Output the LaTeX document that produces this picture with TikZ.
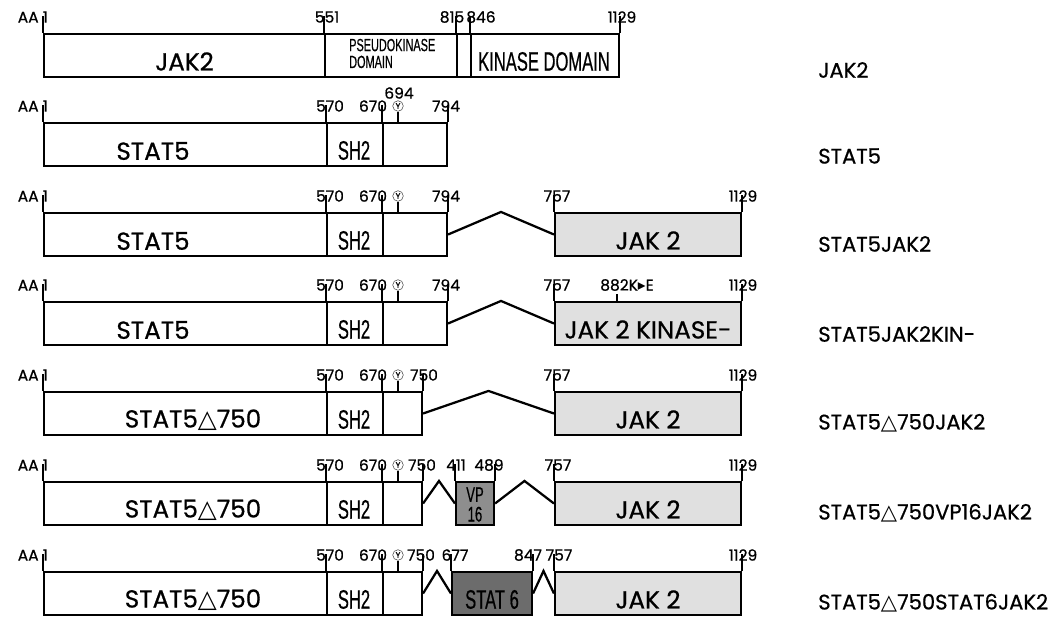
\documentclass[tikz,border=0pt]{standalone}
\usepackage{fontspec}
\setmainfont{Poppins}[FakeBold=0.7]
\newfontfamily\narrowfont[FakeStretch=0.62, FakeBold=0.5]{Liberation Sans}
\newfontfamily\symfont{DejaVu Sans}
\usetikzlibrary{positioning,fit,calc}
\definecolor{jakgray}{HTML}{E0E0E0}
\definecolor{vpgray}{HTML}{8E8E8E}
\definecolor{sixgray}{HTML}{6C6C6C}
\newcommand{\dtri}{{\symfont\bfseries △}}
\newcommand{\kto}{{\symfont ▸}}

\begin{document}
\begin{tikzpicture}[x=0.025cm, y=-0.025cm,
  seg/.style={draw=black, line width=1.5pt, inner sep=0pt},
  jakseg/.style={seg, fill=jakgray},
  vpseg/.style={seg, fill=vpgray},
  sixseg/.style={seg, fill=sixgray},
  tickline/.style={line width=1.5pt},
  ytick/.style={line width=1.2pt},
  linker/.style={line width=1.6pt, line join=miter},
  numlabel/.style={inner sep=0pt, font=\fontsize{11}{11}\selectfont},
  aalabel/.style={numlabel, anchor=east},
  boxtext/.style={inner sep=0pt, font=\fontsize{17.5}{18}\selectfont},
  condtext/.style={inner sep=0pt, font=\narrowfont\fontsize{19}{19}\selectfont},
  rowlabel/.style={inner sep=0pt, anchor=west, font=\fontsize{15}{16}\selectfont},
  ymark/.style={circle, draw=black!70, line width=0.4pt, inner sep=0pt, minimum size=7.5pt, font=\fontsize{6}{6}\selectfont}
]
\useasboundingbox (0,0) rectangle (1062,630);

% JAK2
\node[seg, fit={(44,34) (325,77)}] (r1a) {};
\node[seg, fit={(325,34) (457,77)}] (r1b) {};
\node[seg, fit={(457,34) (471,77)}] (r1c) {};
\node[seg, fit={(471,34) (619,77)}] (r1d) {};
\node[boxtext] (r1ta) at ($(r1a.center)+(0,6)$) {JAK2};
\node[condtext, font=\narrowfont\fontsize{12.5}{12}\selectfont, align=left, anchor=west] (r1tb) at ($(r1b.west)+(25,-2)$) {PSEUDOKINASE\\DOMAIN};
\node[condtext] (r1td) at ($(r1d.center)+(-1,6)$) {KINASE DOMAIN};
\draw[tickline] (r1a.north west) -- ++(0,-17);
\draw[tickline] (r1b.north west) -- ++(0,-17);
\draw[tickline] (r1c.north west) -- ++(0,-17);
\draw[tickline] (r1d.north west) -- ++(0,-17);
\draw[tickline] (r1d.north east) -- ++(0,-17);
\node[aalabel] (r1n1) at (48,17) {AA 1};
\node[numlabel] (r1n551) at (327,17) {551};
\node[numlabel] (r1n815) at (452,17) {815};
\node[numlabel] (r1n846) at (481,17) {846};
\node[numlabel] (r1n1129) at (622,17) {1129};
\node[rowlabel] (r1name) at (818,70) {JAK2};

% STAT5
\node[seg, fit={(44,123) (327,166)}] (r2a) {};
\node[seg, fit={(327,123) (383,166)}] (r2b) {};
\node[seg, fit={(383,123) (447,166)}] (r2c) {};
\node[boxtext] (r2ta) at (153,151) {STAT5};
\node[condtext] (r2tb) at ($(r2b.center)+(-1,6)$) {SH2};
\draw[tickline] (r2a.north west) -- ++(0,-17);
\draw[tickline] (r2b.north west) -- ++(0,-17);
\draw[tickline] (r2c.north west) -- ++(0,-17);
\draw[tickline] (r2c.north east) -- ++(0,-17);
\node[ymark] (r2y) at (398,106) {Y};
\draw[ytick] (r2y.south) -- (r2y.south |- r2c.north);
\node[aalabel] (r2n1) at (48,106) {AA 1};
\node[numlabel] (r2n570) at (330,106) {570};
\node[numlabel] (r2n670) at (373,106) {670};
\node[numlabel] (r2n694) at (399,93) {694};
\node[numlabel] (r2n794) at (446,106) {794};
\node[rowlabel] (r2name) at (818,156) {STAT5};

% STAT5JAK2
\node[seg, fit={(44,213) (327,256)}] (r3a) {};
\node[seg, fit={(327,213) (383,256)}] (r3b) {};
\node[seg, fit={(383,213) (447,256)}] (r3c) {};
\node[jakseg, fit={(555,213) (741,256)}] (r3j) {};
\node[boxtext] (r3ta) at (153,241) {STAT5};
\node[condtext] (r3tb) at ($(r3b.center)+(-1,6)$) {SH2};
\node[boxtext] (r3tj) at ($(r3j.center)+(0,6)$) {JAK 2};
\coordinate (r3p) at ($(r3c.east)!0.5!(r3j.west)$);
\draw[linker] (r3c.east) -- (r3p |- r3c.north) -- (r3j.west);
\draw[tickline] (r3a.north west) -- ++(0,-17);
\draw[tickline] (r3b.north west) -- ++(0,-17);
\draw[tickline] (r3c.north west) -- ++(0,-17);
\draw[tickline] (r3c.north east) -- ++(0,-17);
\draw[tickline] (r3j.north west) -- ++(0,-17);
\draw[tickline] (r3j.north east) -- ++(0,-17);
\node[ymark] (r3y) at (398,196) {Y};
\draw[ytick] (r3y.south) -- (r3y.south |- r3c.north);
\node[aalabel] (r3n1) at (48,196) {AA 1};
\node[numlabel] (r3n570) at (330,196) {570};
\node[numlabel] (r3n670) at (373,196) {670};
\node[numlabel] (r3n794) at (446,196) {794};
\node[numlabel] (r3n757) at (557,196) {757};
\node[numlabel] (r3n1129) at (743,196) {1129};
\node[rowlabel] (r3name) at (818,244) {STAT5JAK2};

% STAT5JAK2KIN-
\node[seg, fit={(44,302) (327,345)}] (r4a) {};
\node[seg, fit={(327,302) (383,345)}] (r4b) {};
\node[seg, fit={(383,302) (447,345)}] (r4c) {};
\node[jakseg, fit={(555,302) (741,345)}] (r4j) {};
\node[boxtext] (r4ta) at (153,330) {STAT5};
\node[condtext] (r4tb) at ($(r4b.center)+(-1,6)$) {SH2};
\node[boxtext] (r4tj) at ($(r4j.center)+(0,6)$) {JAK 2 KINASE-};
\coordinate (r4p) at ($(r4c.east)!0.5!(r4j.west)$);
\draw[linker] (r4c.east) -- (r4p |- r4c.north) -- (r4j.west);
\draw[tickline] (r4a.north west) -- ++(0,-17);
\draw[tickline] (r4b.north west) -- ++(0,-17);
\draw[tickline] (r4c.north west) -- ++(0,-17);
\draw[tickline] (r4c.north east) -- ++(0,-17);
\draw[tickline] (r4j.north west) -- ++(0,-17);
\draw[tickline] (r4j.north east) -- ++(0,-17);
\coordinate (r4k) at (617,302);
\draw[tickline] (r4k) -- ++(0,-8);
\node[ymark] (r4y) at (398,285) {Y};
\draw[ytick] (r4y.south) -- (r4y.south |- r4c.north);
\node[aalabel] (r4n1) at (48,285) {AA 1};
\node[numlabel] (r4n570) at (330,285) {570};
\node[numlabel] (r4n670) at (373,285) {670};
\node[numlabel] (r4n794) at (446,285) {794};
\node[numlabel] (r4n757) at (557,285) {757};
\node[numlabel, anchor=west] (r4n882) at (600,285) {882K\kto E};
\node[numlabel] (r4n1129) at (743,285) {1129};
\node[rowlabel] (r4name) at (818,334) {STAT5JAK2KIN-};

% STAT5 delta 750 JAK2
\node[seg, fit={(44,392) (327,435)}] (r5a) {};
\node[seg, fit={(327,392) (383,435)}] (r5b) {};
\node[seg, fit={(383,392) (422,435)}] (r5c) {};
\node[jakseg, fit={(555,392) (741,435)}] (r5j) {};
\node[boxtext] (r5ta) at (193,420) {STAT5\dtri750};
\node[condtext] (r5tb) at ($(r5b.center)+(-1,6)$) {SH2};
\node[boxtext] (r5tj) at ($(r5j.center)+(0,6)$) {JAK 2};
\coordinate (r5p) at ($(r5c.east)!0.5!(r5j.west)$);
\draw[linker] (r5c.east) -- (r5p |- r5c.north) -- (r5j.west);
\draw[tickline] (r5a.north west) -- ++(0,-17);
\draw[tickline] (r5b.north west) -- ++(0,-17);
\draw[tickline] (r5c.north west) -- ++(0,-17);
\draw[tickline] (r5c.north east) -- ++(0,-17);
\draw[tickline] (r5j.north west) -- ++(0,-17);
\draw[tickline] (r5j.north east) -- ++(0,-17);
\node[ymark] (r5y) at (398,375) {Y};
\draw[ytick] (r5y.south) -- (r5y.south |- r5c.north);
\node[aalabel] (r5n1) at (48,375) {AA 1};
\node[numlabel] (r5n570) at (330,375) {570};
\node[numlabel] (r5n670) at (373,375) {670};
\node[numlabel] (r5n750) at (424,375) {750};
\node[numlabel] (r5n757) at (557,375) {757};
\node[numlabel] (r5n1129) at (743,375) {1129};
\node[rowlabel] (r5name) at (818,423) {STAT5\dtri750JAK2};

% STAT5 delta 750 VP16 JAK2
\node[seg, fit={(44,482) (327,525)}] (r6a) {};
\node[seg, fit={(327,482) (383,525)}] (r6b) {};
\node[seg, fit={(383,482) (422,525)}] (r6c) {};
\node[vpseg, fit={(456,482) (494,525)}] (r6v) {};
\node[jakseg, fit={(555,482) (741,525)}] (r6j) {};
\node[boxtext] (r6ta) at (193,510) {STAT5\dtri750};
\node[condtext] (r6tb) at ($(r6b.center)+(-1,6)$) {SH2};
\node[condtext, font=\narrowfont\fontsize{15}{14}\selectfont, align=center] (r6tv) at ($(r6v.center)+(0,1)$) {VP\\16};
\node[boxtext] (r6tj) at ($(r6j.center)+(0,6)$) {JAK 2};
\coordinate (r6p) at ($(r6c.east)!0.5!(r6v.west)$);
\coordinate (r6q) at ($(r6v.east)!0.5!(r6j.west)$);
\draw[linker] (r6c.east) -- (r6p |- r6c.north) -- (r6v.west);
\draw[linker] (r6v.east) -- (r6q |- r6v.north) -- (r6j.west);
\draw[tickline] (r6a.north west) -- ++(0,-17);
\draw[tickline] (r6b.north west) -- ++(0,-17);
\draw[tickline] (r6c.north west) -- ++(0,-17);
\draw[tickline] (r6c.north east) -- ++(0,-17);
\draw[tickline] (r6v.north west) -- ++(0,-17);
\draw[tickline] (r6v.north east) -- ++(0,-17);
\draw[tickline] (r6j.north west) -- ++(0,-17);
\draw[tickline] (r6j.north east) -- ++(0,-17);
\node[ymark] (r6y) at (398,465) {Y};
\draw[ytick] (r6y.south) -- (r6y.south |- r6c.north);
\node[aalabel] (r6n1) at (48,465) {AA 1};
\node[numlabel] (r6n570) at (330,465) {570};
\node[numlabel] (r6n670) at (373,465) {670};
\node[numlabel] (r6n750) at (422,465) {750};
\node[numlabel] (r6n411) at (456,465) {411};
\node[numlabel] (r6n489) at (489,465) {489};
\node[numlabel] (r6n757) at (558,465) {757};
\node[numlabel] (r6n1129) at (743,465) {1129};
\node[rowlabel] (r6name) at (818,513) {STAT5\dtri750VP16JAK2};

% STAT5 delta 750 STAT6 JAK2
\node[seg, fit={(44,572) (327,615)}] (r7a) {};
\node[seg, fit={(327,572) (383,615)}] (r7b) {};
\node[seg, fit={(383,572) (422,615)}] (r7c) {};
\node[sixseg, fit={(452,572) (532,615)}] (r7s) {};
\node[jakseg, fit={(555,572) (741,615)}] (r7j) {};
\node[boxtext] (r7ta) at (193,600) {STAT5\dtri750};
\node[condtext] (r7tb) at ($(r7b.center)+(-1,6)$) {SH2};
\node[condtext] (r7ts) at ($(r7s.center)+(0,6)$) {STAT 6};
\node[boxtext] (r7tj) at ($(r7j.center)+(0,6)$) {JAK 2};
\coordinate (r7p) at ($(r7c.east)!0.5!(r7s.west)$);
\coordinate (r7q) at ($(r7s.east)!0.5!(r7j.west)$);
\draw[linker] (r7c.east) -- (r7p |- r7c.north) -- (r7s.west);
\draw[linker] (r7s.east) -- (r7q |- r7s.north) -- (r7j.west);
\draw[tickline] (r7a.north west) -- ++(0,-17);
\draw[tickline] (r7b.north west) -- ++(0,-17);
\draw[tickline] (r7c.north west) -- ++(0,-17);
\draw[tickline] (r7c.north east) -- ++(0,-17);
\draw[tickline] (r7s.north west) -- ++(0,-17);
\draw[tickline] (r7s.north east) -- ++(0,-17);
\draw[tickline] (r7j.north west) -- ++(0,-17);
\draw[tickline] (r7j.north east) -- ++(0,-17);
\node[ymark] (r7y) at (398,555) {Y};
\draw[ytick] (r7y.south) -- (r7y.south |- r7c.north);
\node[aalabel] (r7n1) at (48,555) {AA 1};
\node[numlabel] (r7n570) at (330,555) {570};
\node[numlabel] (r7n670) at (373,555) {670};
\node[numlabel] (r7n750) at (421,555) {750};
\node[numlabel] (r7n677) at (455,555) {677};
\node[numlabel] (r7n847) at (528,555) {847};
\node[numlabel] (r7n757) at (559,555) {757};
\node[numlabel] (r7n1129) at (743,555) {1129};
\node[rowlabel] (r7name) at (818,603) {STAT5\dtri750STAT6JAK2};
\end{tikzpicture}
\end{document}
